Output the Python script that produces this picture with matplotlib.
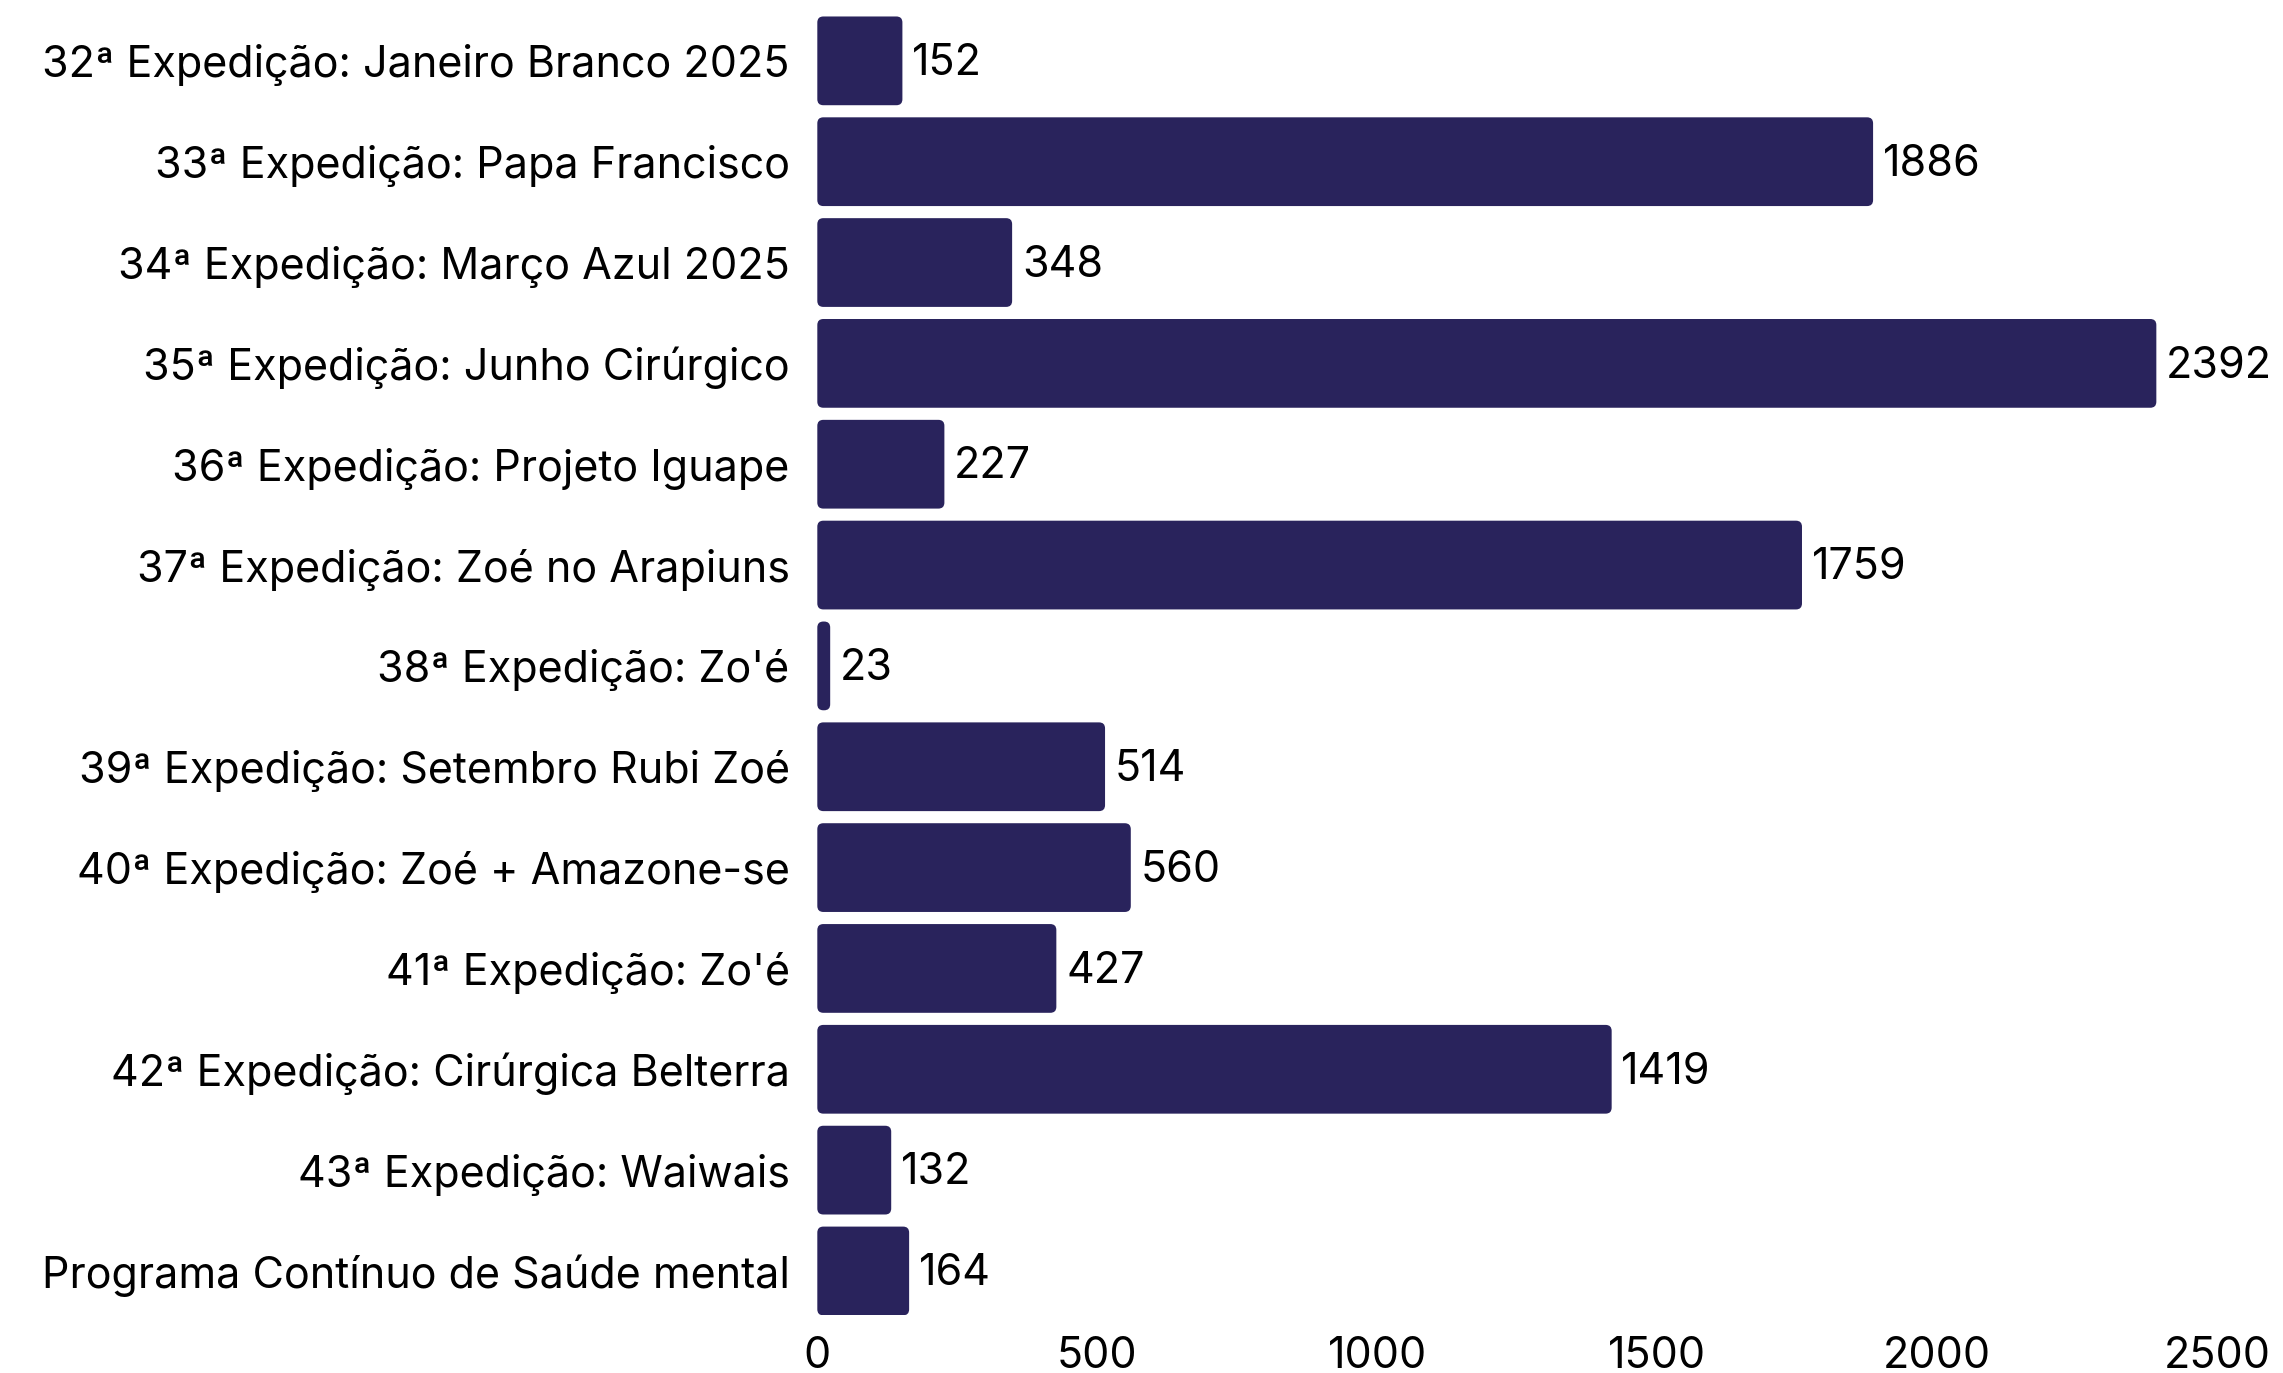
import matplotlib.pyplot as plt
from matplotlib.patches import FancyBboxPatch

plt.rcParams['font.family'] = ['Inter', 'DejaVu Sans']

# dados
expedicoes = [
    "32ª Expedição: Janeiro Branco 2025",
    "33ª Expedição: Papa Francisco",
    "34ª Expedição: Março Azul 2025",
    "35ª Expedição: Junho Cirúrgico",
    "36ª Expedição: Projeto Iguape",
    "37ª Expedição: Zoé no Arapiuns",
    "38ª Expedição: Zo'é",
    "39ª Expedição: Setembro Rubi Zoé",
    "40ª Expedição: Zoé + Amazone-se",
    "41ª Expedição: Zo'é",
    "42ª Expedição: Cirúrgica Belterra",
    "43ª Expedição: Waiwais",
    "Programa Contínuo de Saúde mental",
]
atendimentos = [152, 1886, 348, 2392, 227, 1759, 23, 514, 560, 427, 1419, 132, 164]

cor = "#29235c"

fig = plt.figure(figsize=(22.83, 13.73), dpi=100)
ax = fig.add_axes([0.358, 0.042, 0.613, 0.946])

bars = ax.barh(range(len(expedicoes)), atendimentos, height=0.88, color=cor)
ax.set_xlim(0, 2500)
ax.set_ylim(len(expedicoes) - 0.56, -0.44)

# cantos arredondados
x_px = ax.transData.transform((1, 0))[0] - ax.transData.transform((0, 0))[0]
y_px = abs(ax.transData.transform((0, 1))[1] - ax.transData.transform((0, 0))[1])
raio = 6 / x_px
for b in bars:
    b.set_visible(False)
    p = FancyBboxPatch((b.get_x(), b.get_y()), b.get_width(), b.get_height(),
                       boxstyle=f"round,pad=0,rounding_size={raio}",
                       mutation_aspect=x_px / y_px,
                       facecolor=cor, edgecolor="none")
    ax.add_patch(p)

rotulos = ax.bar_label(bars, labels=[str(v) for v in atendimentos], padding=7,
                       fontsize=31, color="black")
for r in rotulos:
    r.xyann = (7, -2)

ax.set_yticks(range(len(expedicoes)))
ax.set_yticklabels(expedicoes, fontsize=31)
ax.set_xticks([0, 500, 1000, 1500, 2000, 2500])
ax.tick_params(axis='both', length=0, labelsize=31)
ax.tick_params(axis='y', pad=20)
ax.tick_params(axis='x', pad=15)
for s in ax.spines.values():
    s.set_visible(False)

plt.savefig("out.png", dpi=100)
